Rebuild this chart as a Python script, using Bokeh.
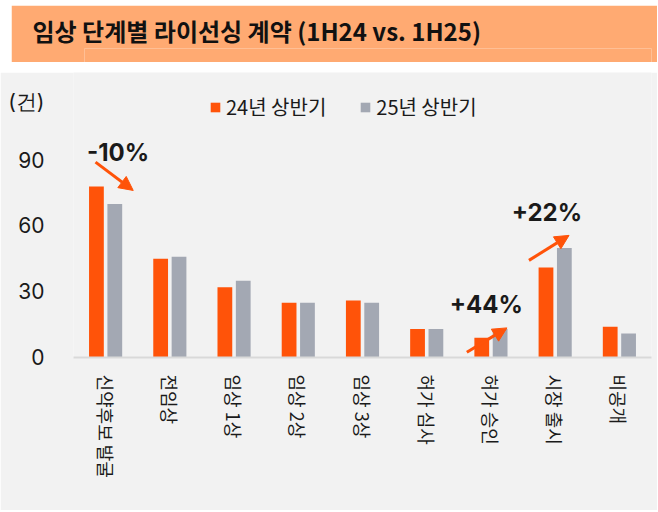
import math
from bokeh.plotting import figure
from bokeh.models import (ColumnDataSource, FactorRange, FixedTicker, Arrow, NormalHead,
                          Legend, LegendItem, Range1d)
from bokeh.transform import dodge
from bokeh.layouts import column
from bokeh.core.properties import value
from bokeh.embed import file_html
from bokeh.resources import INLINE

# ---------------- data ----------------
title_text = "임상 단계별 라이선싱 계약 (1H24 vs. 1H25)"
unit_label = "(건)"
stages = ["신약후보 발굴", "전임상", "임상 1상", "임상 2상", "임상 3상",
          "허가 심사", "허가 승인", "시장 출시", "비공개"]
series_names = ["24년 상반기", "25년 상반기"]
h1_24 = [78, 45, 32, 25, 26, 13, 9, 41, 14]
h1_25 = [70, 46, 35, 25, 25, 13, 13, 50, 11]
y_ticks = [0, 30, 60, 90]
unit_tick = 117

# change annotations (synthetic categorical x, value y)
chg_text = ["-10%", "+44%", "+22%"]
chg_text_x = [0.694, 6.426, 7.370]
chg_text_y = [93.7, 24.2, 66.3]
arrow_x0 = [0.343, 6.125, 7.092]
arrow_y0 = [89.1, 2.4, 44.3]
arrow_x1 = [0.930, 6.749, 7.716]
arrow_y1 = [76.2, 13.5, 55.7]

# ---------------- style ----------------
ORANGE = "#FF5309"
GRAY = "#A3A8B3"
BANNER = "#FFAA72"
PANEL = "#F2F2F2"
TXT = "#1A1A1A"
KR = "Noto Sans CJK KR"

# ---------------- banner ----------------
banner = figure(width=646, height=57, x_range=Range1d(0, 1), y_range=Range1d(0, 1),
                title=title_text, toolbar_location=None, output_backend="svg",
                x_axis_location=None, y_axis_location=None,
                min_border_left=0, min_border_right=0, min_border_top=43, min_border_bottom=0)
banner.margin = (5, 0, 0, 11)
banner.background_fill_color = BANNER
banner.border_fill_color = BANNER
banner.outline_line_color = None
banner.grid.visible = False
banner.title.align = "left"
banner.title.offset = -52
banner.title.standoff = 2
banner.title.text_font = KR
banner.title.text_font_style = "bold"
banner.title.text_font_size = "24px"
banner.title.text_color = "#111111"

# ---------------- chart ----------------
src = ColumnDataSource(dict(stages=stages, a=h1_24, b=h1_25))

p = figure(width=657, height=438, x_range=FactorRange(factors=stages, range_padding=0),
           y_range=Range1d(0, 130), toolbar_location=None, output_backend="svg",
           min_border_left=73, min_border_right=6, min_border_top=0, min_border_bottom=153)
p.margin = (10, 0, 0, 0)
p.background_fill_color = PANEL
p.border_fill_color = PANEL
p.outline_line_color = None
p.grid.visible = False

r1 = p.vbar(x=dodge("stages", -0.143, range=p.x_range), top="a", width=0.23,
            source=src, fill_color=ORANGE, line_color=None)
r2 = p.vbar(x=dodge("stages", 0.143, range=p.x_range), top="b", width=0.23,
            source=src, fill_color=GRAY, line_color=None)

# axes
p.yaxis.ticker = FixedTicker(ticks=y_ticks + [unit_tick])
p.yaxis.major_label_overrides = {unit_tick: unit_label}
p.yaxis.axis_line_color = None
p.yaxis.major_tick_line_color = None
p.yaxis.minor_tick_line_color = None
p.yaxis.major_label_standoff = 23
p.yaxis.major_label_text_font = "Inter"
p.yaxis.major_label_text_font_size = "21px"
p.yaxis.major_label_text_color = TXT

p.xaxis.axis_line_color = "#D9D9D9"
p.xaxis.axis_line_width = 2
p.xaxis.major_tick_line_color = None
p.xaxis.minor_tick_line_color = None
p.xaxis.major_label_orientation = -math.pi / 2
p.xaxis.major_label_standoff = 11
p.xaxis.major_label_text_font = KR
p.xaxis.major_label_text_font_size = "18px"
p.xaxis.major_label_text_color = TXT

# legend
legend = Legend(items=[LegendItem(label=series_names[0], renderers=[r1]),
                       LegendItem(label=series_names[1], renderers=[r2])],
                orientation="horizontal", location=(136, 236), spacing=33,
                glyph_width=12, glyph_height=12, label_standoff=5, label_height=20,
                padding=0, margin=0, background_fill_alpha=0, border_line_color=None,
                label_text_font=KR, label_text_font_size="20px", label_text_color=TXT)
p.add_layout(legend)

# arrows
for x0, y0, x1, y1 in zip(arrow_x0, arrow_y0, arrow_x1, arrow_y1):
    p.add_layout(Arrow(x_start=x0, y_start=y0, x_end=x1, y_end=y1,
                       line_color=ORANGE, line_width=3,
                       end=NormalHead(size=14, fill_color=ORANGE, line_color=ORANGE)))

# change labels
csrc = ColumnDataSource(dict(x=chg_text_x, y=chg_text_y, t=chg_text))
p.text(x="x", y="y", text="t", source=csrc, text_font=value("Inter"),
       text_font_style="bold", text_font_size="24px", text_color=TXT,
       text_align="center", text_baseline="middle")

layout = column(banner, p, spacing=0)
open("out.html", "w").write(file_html(layout, INLINE))
